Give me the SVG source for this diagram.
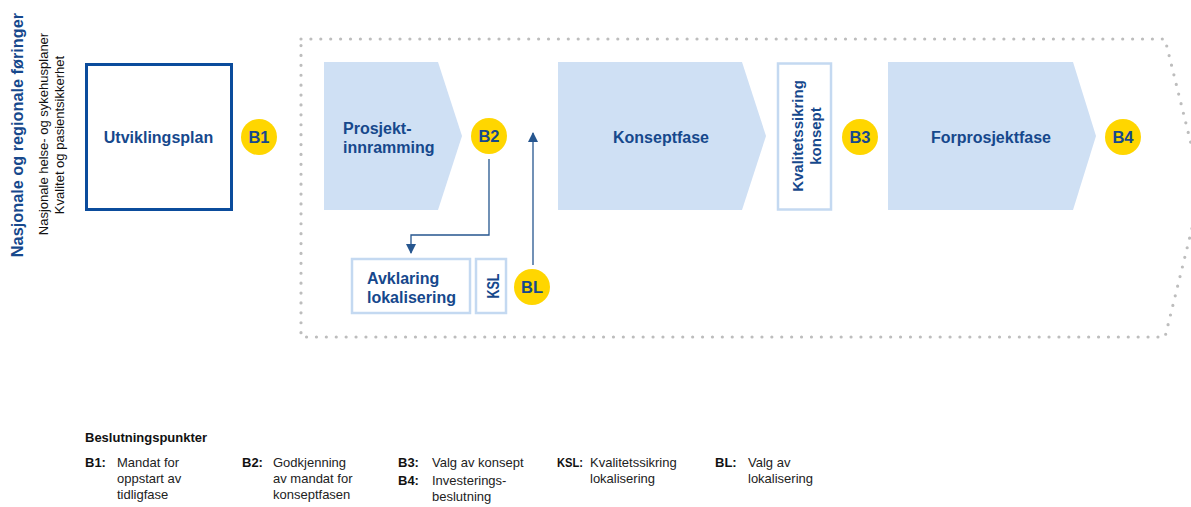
<svg xmlns="http://www.w3.org/2000/svg" width="1191" height="507" viewBox="0 0 1191 507">
<defs>
<style>
text{font-family:"Liberation Sans",Arial,sans-serif;}
.lbl{font-weight:bold;font-size:16px;fill:#16488c;}
.bp{font-weight:bold;font-size:16.5px;fill:#16488c;text-anchor:middle;}
.chev{fill:#cfe0f4;}
.lbox{fill:#fff;stroke:#c4d9f1;stroke-width:2.5;}
.dot{fill:#ffd600;}
.conn{fill:none;stroke:#26568f;stroke-width:1.3;}
.leg{font-size:13px;fill:#222;}
.legb{font-size:13px;font-weight:bold;fill:#111;}
</style>
<marker id="arr" viewBox="0 0 10 10" refX="9" refY="5" markerWidth="10" markerHeight="10" markerUnits="userSpaceOnUse" orient="auto">
<path d="M0,0 L10,5 L0,10 Z" fill="#26568f"/>
</marker>
</defs>
<rect width="1191" height="507" fill="#fff"/>

<g id="side-labels">
<text transform="translate(22.5,135) rotate(-90)" text-anchor="middle" style="font-weight:bold;font-size:16.3px;fill:#16488c">Nasjonale og regionale føringer</text>
<text transform="translate(47.5,134) rotate(-90)" text-anchor="middle" style="font-size:13px;fill:#111">Nasjonale helse- og sykehusplaner</text>
<text transform="translate(63.5,135) rotate(-90)" text-anchor="middle" style="font-size:13px;fill:#111">Kvalitet og pasientsikkerhet</text>
</g>

<g id="frame">
<path d="M301,39 L1165,39 L1202,188 L1165,337 L301,337 Z" fill="none" stroke="#bdbdbd" stroke-width="3.2" stroke-dasharray="0 9.9" stroke-linecap="round"/>
</g>

<g id="connectors">
<path class="conn" d="M489,159 V235 H411 V253" marker-end="url(#arr)"/>
<path class="conn" d="M533,265 V133" marker-end="url(#arr)"/>
</g>

<g id="utviklingsplan">
<rect x="86.5" y="64.5" width="145" height="145" fill="#fff" stroke="#0b4c9c" stroke-width="3"/>
<text class="lbl" x="158.5" y="143" text-anchor="middle">Utviklingsplan</text>
</g>
<g id="b1"><circle class="dot" cx="259" cy="137" r="18"/><text class="bp" x="259" y="143">B1</text></g>

<g id="prosjektinnramming">
<polygon class="chev" points="324,62 438,62 462,136 438,210 324,210"/>
<text class="lbl" x="343" y="134">Prosjekt-</text>
<text class="lbl" x="343" y="153">innramming</text>
</g>
<g id="b2"><circle class="dot" cx="489" cy="136" r="18"/><text class="bp" x="489" y="142">B2</text></g>

<g id="avklaring">
<rect class="lbox" x="352" y="259" width="118" height="54"/>
<text class="lbl" x="367" y="284">Avklaring</text>
<text class="lbl" x="367" y="303">lokalisering</text>
</g>
<g id="ksl">
<rect class="lbox" x="476" y="259" width="30" height="54"/>
<text class="lbl" transform="translate(498.5,286) rotate(-90)" text-anchor="middle" textLength="25" lengthAdjust="spacingAndGlyphs">KSL</text>
</g>
<g id="bl"><circle class="dot" cx="532" cy="287" r="18"/><text class="bp" x="532" y="293">BL</text></g>

<g id="konseptfase">
<polygon class="chev" points="558,62 742,62 766,136 742,210 558,210"/>
<text class="lbl" x="661" y="143" text-anchor="middle">Konseptfase</text>
</g>

<g id="kvalitetssikring-konsept">
<rect class="lbox" x="778" y="63.5" width="53" height="146"/>
<text class="lbl" transform="translate(803,136) rotate(-90)" text-anchor="middle" style="font-size:15px">Kvalitetssikring</text>
<text class="lbl" transform="translate(821,136) rotate(-90)" text-anchor="middle" style="font-size:15px">konsept</text>
</g>
<g id="b3"><circle class="dot" cx="860" cy="137" r="18"/><text class="bp" x="860" y="143">B3</text></g>

<g id="forprosjektfase">
<polygon class="chev" points="888,62 1073,62 1096,136 1073,210 888,210"/>
<text class="lbl" x="991" y="143" text-anchor="middle">Forprosjektfase</text>
</g>
<g id="b4"><circle class="dot" cx="1123" cy="137" r="18"/><text class="bp" x="1123" y="143">B4</text></g>

<g id="legend">
<text class="legb" x="85" y="442">Beslutningspunkter</text>
<text class="legb" x="85" y="467">B1:</text>
<text class="leg" x="117" y="467">Mandat for</text>
<text class="leg" x="117" y="483">oppstart av</text>
<text class="leg" x="117" y="499">tidligfase</text>
<text class="legb" x="242" y="467">B2:</text>
<text class="leg" x="273" y="467">Godkjenning</text>
<text class="leg" x="273" y="483">av mandat for</text>
<text class="leg" x="273" y="499">konseptfasen</text>
<text class="legb" x="398" y="467">B3:</text>
<text class="leg" x="432" y="467">Valg av konsept</text>
<text class="legb" x="398" y="485">B4:</text>
<text class="leg" x="432" y="485">Investerings-</text>
<text class="leg" x="432" y="501">beslutning</text>
<text class="legb" x="557" y="467" textLength="26" lengthAdjust="spacingAndGlyphs">KSL:</text>
<text class="leg" x="590" y="467">Kvalitetssikring</text>
<text class="leg" x="590" y="483">lokalisering</text>
<text class="legb" x="715" y="467">BL:</text>
<text class="leg" x="748" y="467">Valg av</text>
<text class="leg" x="748" y="483">lokalisering</text>
</g>
</svg>
